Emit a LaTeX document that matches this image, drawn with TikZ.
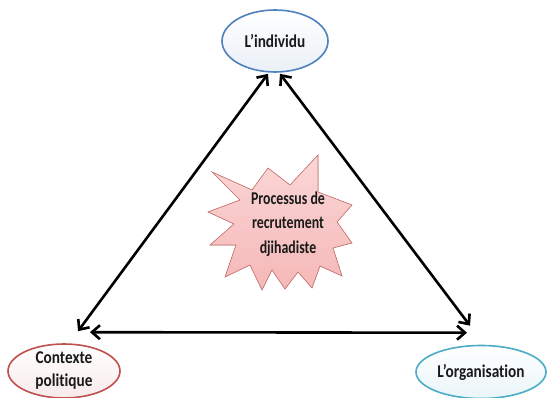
\documentclass[tikz,border=0pt]{standalone}
\usepackage{fontspec}
\setmainfont{Carlito}
\newfontfamily\condfont[FakeStretch=0.85,Ligatures=NoCommon,BoldFont={Carlito Bold}]{Carlito}
\newfontfamily\starfont[FakeStretch=0.77,Ligatures=NoCommon,BoldFont={Carlito Bold}]{Carlito}
\usetikzlibrary{arrows.meta,shapes.geometric,calc,shadows}
\definecolor{blueb}{HTML}{4F81BD}
\definecolor{redb}{HTML}{C0504D}
\definecolor{tealb}{HTML}{4BACC6}
\definecolor{pinkf}{HTML}{F5B8B8}
\definecolor{pinkl}{HTML}{FBD6D6}
\definecolor{txt}{HTML}{1A1A1A}
\begin{document}
\begin{tikzpicture}[x=1pt,y=-1pt,
  ovalbox/.style={ellipse, draw, line width=1.6pt, inner sep=0pt, text=txt, font=\condfont\bfseries\fontsize{18}{23}\selectfont, align=center},
  link/.style={line width=2.6pt, {Straight Barb[length=8pt,width=14pt,line width=2.6pt]}-{Straight Barb[length=8pt,width=14pt,line width=2.6pt]}},
  startext/.style={text=txt, font=\starfont\bfseries\fontsize{18}{24.5}\selectfont, align=center}]
\useasboundingbox (0,0) rectangle (548,398);
\fill[white] (0,0) rectangle (548,398);
% ellipses
\node[ovalbox, draw=blueb, top color=white, bottom color=blueb!12, minimum width=106pt, minimum height=62pt] (ind) at (275,41) {L’individu};
\node[ovalbox, draw=redb, top color=white, bottom color=redb!12, minimum width=112pt, minimum height=54pt] (ctx) at (64,371) {Contexte\\politique};
\node[ovalbox, draw=tealb, top color=white, bottom color=tealb!12, minimum width=130pt, minimum height=53pt] (org) at (481,372) {L’organisation};
% arrow end points
\coordinate (iL) at ($(ind.south)+(-7,1)$);
\coordinate (iR) at ($(ind.south)+(5,1)$);
\coordinate (cT) at ($(ctx.north)+(14,-12)$);
\coordinate (cR) at ($(ctx.north)+(26,-11)$);
\coordinate (oL) at ($(org.north)+(-14,-12)$);
\coordinate (oT) at ($(org.north)+(-11,-19)$);
% star
\filldraw[draw=redb!80, line width=0.6pt, top color=pinkl, bottom color=pinkf]
  (212,172) -- (252,190) -- (268,168) -- (290,185) -- (318,155) -- (318,192)
  -- (352,205) -- (337,222) -- (352,243) -- (333,248) -- (342,276) -- (320,266)
  -- (312,288) -- (298,272) -- (285,289) -- (272,270) -- (262,290) -- (250,265)
  -- (225,277) -- (236,245) -- (210,245) -- (234,224) -- (208,212) -- (240,200)
  -- cycle;
\node[startext] (proc) at (288,224) {Processus de\\recrutement\\djihadiste};
% connectors
\draw[link] (iL) -- (cT);
\draw[link] (iR) -- (oT);
\draw[link] (cR) -- (oL);
\end{tikzpicture}
\end{document}
